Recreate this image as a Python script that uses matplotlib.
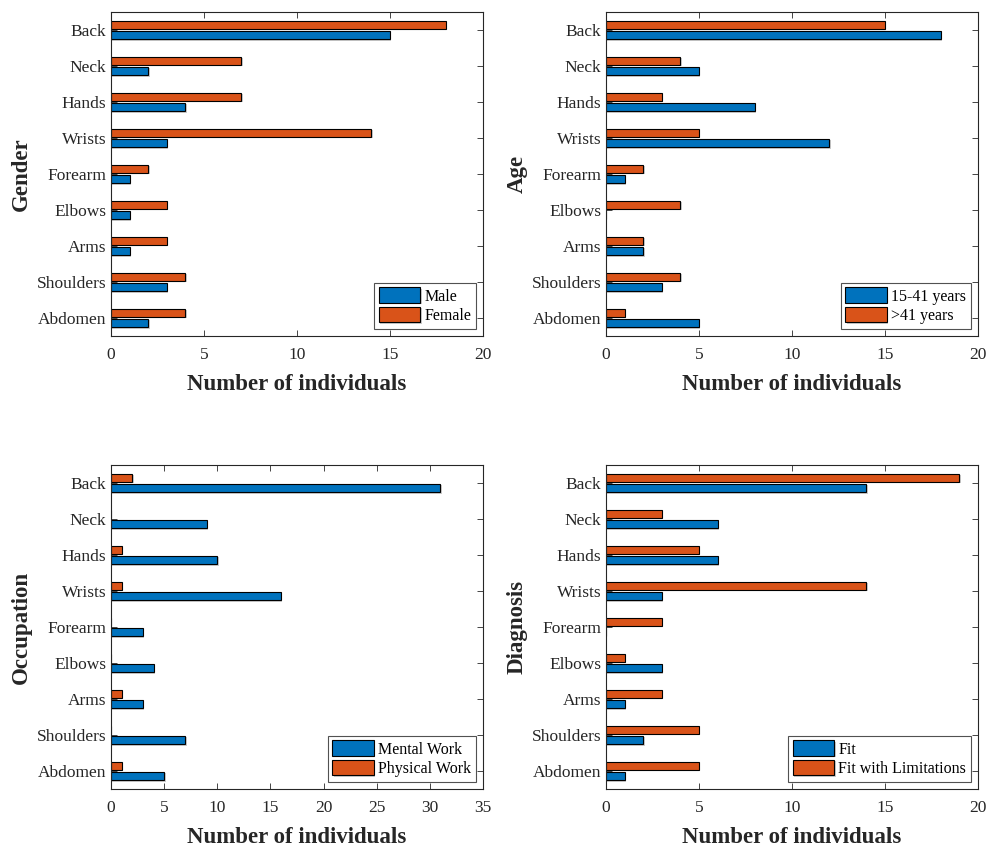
import numpy as np
import matplotlib
matplotlib.use("Agg")
import matplotlib.pyplot as plt
import matplotlib.patheffects as pe

plt.rcParams['font.family'] = ['Liberation Serif', 'DejaVu Serif']

# Body regions, bottom to top as drawn
regions = ["Abdomen", "Shoulders", "Arms", "Elbows", "Forearm",
           "Wrists", "Hands", "Neck", "Back"]

# Gender
male = [2, 3, 1, 1, 1, 3, 4, 2, 15]
female = [4, 4, 3, 3, 2, 14, 7, 7, 18]

# Age
age_young = [5, 3, 2, 0, 1, 12, 8, 5, 18]
age_old = [1, 4, 2, 4, 2, 5, 3, 4, 15]

# Occupation
mental = [5, 7, 3, 4, 3, 16, 10, 9, 31]
physical = [1, 0, 1, 0, 0, 1, 1, 0, 2]

# Diagnosis
fit = [1, 2, 1, 3, 0, 3, 6, 6, 14]
fit_lim = [5, 5, 3, 1, 3, 14, 5, 3, 19]

BLUE = "#0072BD"
ORANGE = "#D95319"

panels = [
    ("Gender", male, female, "Male", "Female", 20, 5),
    ("Age", age_young, age_old, "15-41 years", ">41 years", 20, 5),
    ("Occupation", mental, physical, "Mental Work", "Physical Work", 35, 5),
    ("Diagnosis", fit, fit_lim, "Fit", "Fit with Limitations", 20, 5),
]

W, H = 987, 848
fig = plt.figure(figsize=(W / 100, H / 100), dpi=100)

# axes boxes in pixels: left, top, right, bottom
boxes = [(111, 12, 483, 336), (606, 12, 978, 336),
         (111, 465, 483, 789), (606, 465, 978, 789)]

shadow = [pe.SimplePatchShadow(offset=(1, -1), shadow_rgbFace="0.6", alpha=0.5),
          pe.Normal()]

y = np.arange(len(regions))
h = 0.23
off = 0.145

for (name, s1, s2, l1, l2, xmax, step), (l, t, r, b) in zip(panels, boxes):
    ax = fig.add_axes([l / W, 1 - b / H, (r - l) / W, (b - t) / H])
    b1 = ax.barh(y - off, s1, height=h, color=BLUE, edgecolor="black",
                 linewidth=0.8, label=l1)
    b2 = ax.barh(y + off, s2, height=h, color=ORANGE, edgecolor="black",
                 linewidth=0.8, label=l2)
    for bar in list(b1) + list(b2):
        bar.set_path_effects(shadow)
    ax.set_xlim(0, xmax)
    ax.set_ylim(-0.5, len(regions) - 0.5)
    ax.set_xticks(np.arange(0, xmax + 1, step))
    ax.set_yticks(y)
    ax.set_yticklabels(regions)
    ax.tick_params(direction="in", top=True, right=True, labelsize=12.5,
                   length=4, width=0.6, colors="#262626")
    ax.tick_params(axis="x", pad=8)
    for sp in ax.spines.values():
        sp.set_linewidth(0.8)
        sp.set_color("#262626")
    ax.set_xlabel("Number of individuals", fontsize=16.5, fontweight="bold",
                  color="#262626", labelpad=8)
    ax.set_ylabel(name, fontsize=16.5, fontweight="bold", color="#262626",
                  labelpad=3)
    leg = ax.legend(loc="lower right", fontsize=11.5, fancybox=False,
                    edgecolor="#262626", handlelength=2.6, handleheight=1.1,
                    borderaxespad=0.45, handletextpad=0.25, borderpad=0.3,
                    labelspacing=0.15)
    leg.get_frame().set_linewidth(0.8)

fig.savefig("out.png", dpi=100)
